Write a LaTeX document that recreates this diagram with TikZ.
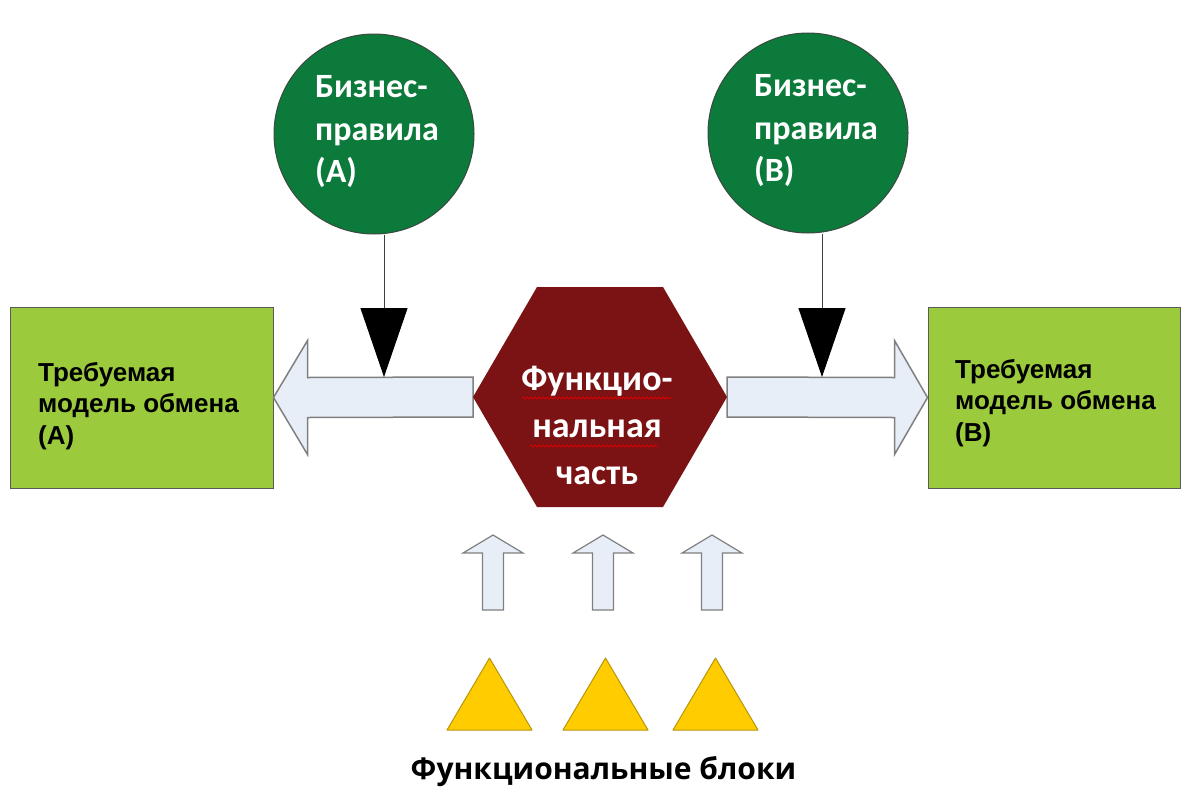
\documentclass[tikz,border=0pt]{standalone}
\usepackage{fontspec}
\usetikzlibrary{arrows.meta,calc,decorations.pathmorphing}
\newfontfamily\calfont{Carlito}
\newfontfamily\arialfont{Liberation Sans}
\newfontfamily\capfont{Open Sans}
\definecolor{rulegreen}{HTML}{0B7A3B}
\definecolor{circleedge}{HTML}{3A4A3F}
\definecolor{boxgreen}{HTML}{9BCA3D}
\definecolor{boxedge}{HTML}{5A5A5A}
\definecolor{hexred}{HTML}{7B1315}
\definecolor{arrowfill}{HTML}{E7EEF8}
\definecolor{arrowedge}{HTML}{808080}
\definecolor{blockyellow}{HTML}{FFCC00}
\definecolor{blockedge}{HTML}{B8960A}
\begin{document}
\begin{tikzpicture}[x=1pt,y=-1pt,
  rulecircle/.style={circle, fill=rulegreen, draw=circleedge, line width=1pt,
    minimum size=200pt, inner sep=0pt},
  ruletext/.style={inner sep=0pt, text=white, align=left,
    font=\calfont\bfseries\fontsize{34}{42.5}\selectfont},
  modelbox/.style={rectangle, fill=boxgreen, draw=boxedge, line width=1pt,
    minimum height=181pt, inner sep=0pt},
  modeltext/.style={anchor=west, inner sep=0pt, align=left, text=black,
    font=\arialfont\bfseries\fontsize{26}{31.5}\selectfont},
  hextext/.style={inner sep=0pt, align=center, text=white,
    font=\calfont\bfseries\fontsize{36}{47}\selectfont},
  flowarrow/.style={fill=arrowfill, draw=arrowedge, line width=1.5pt, line join=miter},
  ruleline/.style={draw=black!75, line width=1pt,
    -{Triangle[width=47pt,length=69pt,color=black]}},
  blocktri/.style={fill=blockyellow, draw=blockedge, line width=1pt, line join=round},
  squiggle/.style={draw=red!85!black, line width=0.8pt, decorate,
    decoration={snake, amplitude=1pt, segment length=4pt}}
]
\useasboundingbox (0,0) rectangle (1182,790);
\fill[white] (0,0) rectangle (1182,790);

% exchange models on both sides
\node[modelbox, minimum width=263pt] (boxA) at (141.5,397.5) {};
\node[modelbox, minimum width=252pt] (boxB) at (1054,397.5) {};
\node[modeltext] (boxAtext) at (38,406) {Требуемая\\модель обмена\\(А)};
\node[modeltext] (boxBtext) at (955,403) {Требуемая\\модель обмена\\(В)};

% functional core
\coordinate (hexL) at (473,397);
\coordinate (hexR) at (727,397);

% wide arrows from the core to the models
\draw[flowarrow] (boxA.east) -- ([shift={(34,-57)}]boxA.east)
  -- ([shift={(34,-20)}]boxA.east) -- ([shift={(0,-20)}]hexL)
  -- ([shift={(0,20)}]hexL) -- ([shift={(34,20)}]boxA.east)
  -- ([shift={(34,57)}]boxA.east) -- cycle;
\draw[flowarrow] (boxB.west) -- ([shift={(-33,-57)}]boxB.west)
  -- ([shift={(-33,-20)}]boxB.west) -- ([shift={(0,-20)}]hexR)
  -- ([shift={(0,20)}]hexR) -- ([shift={(-33,20)}]boxB.west)
  -- ([shift={(-33,57)}]boxB.west) -- cycle;

\fill[hexred] (hexL) -- (537,287) -- (663,287) -- (hexR) -- (663,507) -- (537,507) -- cycle;
\node[hextext] (hexlabel) at (597,425) {Функцио-\\нальная\\часть};
\draw[squiggle] (522,398) -- (672,398);
\draw[squiggle] (530,446) -- (658,446);

% business rules
\node[rulecircle] (cA) at (374,134) {};
\node[rulecircle] (cB) at (808,133) {};
\node[ruletext] (cAtext) at (377,132) {Бизнес-\\правила\\(А)};
\node[ruletext] (cBtext) at (816,131) {Бизнес-\\правила\\(В)};
\coordinate (tipA) at (384,377);
\coordinate (tipB) at (822,377);
\draw[ruleline] (cA.south -| tipA) -- (tipA);
\draw[ruleline] (cB.south -| tipB) -- (tipB);

% small upward arrows
\foreach \cx in {493,603,712}
  \draw[flowarrow, line width=1.2pt] (\cx,535) -- (\cx+30,553) -- (\cx+10.5,553)
    -- (\cx+10.5,610) -- (\cx-10.5,610) -- (\cx-10.5,553) -- (\cx-30,553) -- cycle;

% functional blocks
\foreach \cx in {489.5,605.5,715.5}
  \draw[blocktri] (\cx,658) -- (\cx+42.5,730) -- (\cx-42.5,730) -- cycle;

\node[anchor=base, inner sep=0pt, font=\capfont\bfseries\fontsize{30}{36}\selectfont]
  (blocks) at (603.5,779) {Функциональные блоки};
\end{tikzpicture}
\end{document}
